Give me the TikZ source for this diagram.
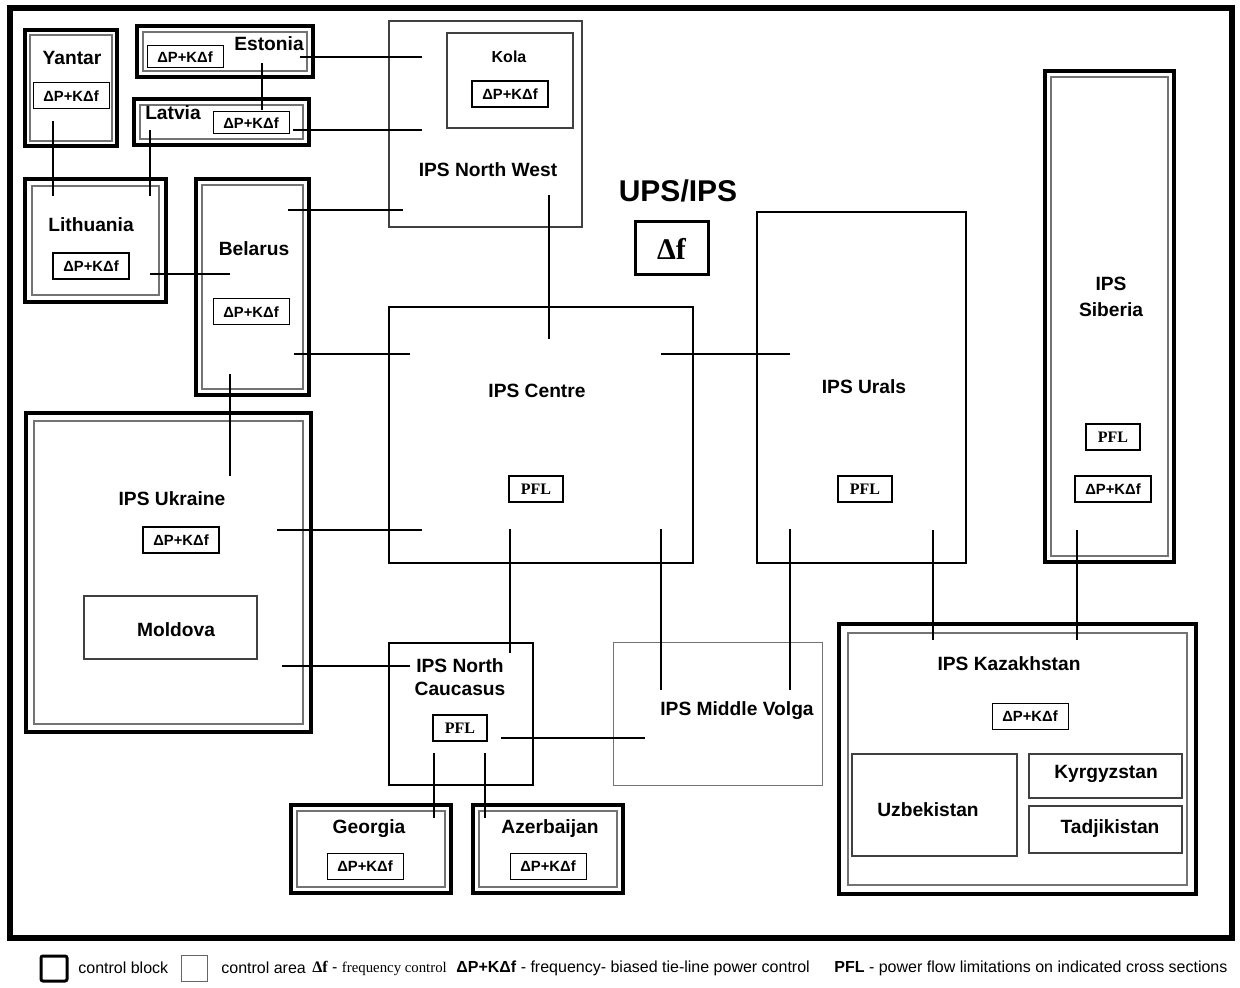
\documentclass[tikz,border=0pt]{standalone}
\usepackage{fontspec}
\setmainfont{Liberation Sans}
\newfontfamily\tms{Liberation Serif}
\usetikzlibrary{positioning,fit}

\tikzset{
  cblock/.style={draw, line width=2pt, inner sep=0pt,
    path picture={\draw[black!55, line width=0.6pt]
      ([shift={(#1,-#1)}]path picture bounding box.north west) rectangle
      ([shift={(-#1,#1)}]path picture bounding box.south east);}},
  cblock/.default=2.8pt,
  carea/.style={draw, line width=0.7pt, inner sep=0pt},
  lbl/.style={font=\bfseries\fontsize{9.6}{12}\selectfont, align=center, inner sep=0pt},
  ctl/.style={draw, line width=0.5pt, font=\bfseries\fontsize{7.4}{9}\selectfont,
    minimum width=38pt, minimum height=13pt, inner sep=0pt},
  ctlb/.style={ctl, line width=1pt},
  pfl/.style={draw, line width=1pt, font=\tms\bfseries\fontsize{8}{9}\selectfont,
    minimum width=27pt, minimum height=13pt, inner sep=0pt},
  tie/.style={line width=1pt},
  legtxt/.style={font=\fontsize{8}{10}\selectfont, anchor=west, inner sep=0pt}
}

\begin{document}
\begin{tikzpicture}[x=0.5pt,y=-0.5pt]
  \useasboundingbox (0,0) rectangle (1240,988);

  % UPS/IPS frame
  \node[draw, line width=3pt, inner sep=0pt, fit={(10,8) (1232,938)}] (ups) {};
  \node[font=\bfseries\fontsize{15}{18}\selectfont, inner sep=0pt] (upsL) at (678,191) {UPS/IPS};
  \node[draw, line width=1.5pt, inner sep=0pt, fit={(635,222) (708,275)}] (df) {};
  \node[font=\tms\bfseries\fontsize{15}{18}\selectfont, inner sep=0pt] (dfL) at (df.center) {Δf};

  % Baltic blocks
  \node[cblock=2.5pt, fit={(25,30) (117,146)}] (yantar) {};
  \node[lbl] (yantarL) at (72,58) {Yantar};
  \node[ctl] (yantarC) at (71,96) {ΔP+KΔf};

  \node[cblock=3pt, fit={(137,26) (313,77)}] (estonia) {};
  \node[lbl] (estoniaL) at (269,44) {Estonia};
  \node[ctl, minimum height=11pt] (estoniaC) at (185,57) {ΔP+KΔf};

  \node[cblock=3pt, fit={(134,99) (309,145)}] (latvia) {};
  \node[lbl] (latviaL) at (173,113) {Latvia};
  \node[ctl, minimum height=11pt] (latviaC) at (251,123) {ΔP+KΔf};

  \node[cblock=3.5pt, fit={(25,179) (166,302)}] (lith) {};
  \node[lbl] (lithL) at (91,225) {Lithuania};
  \node[ctlb] (lithC) at (91,266) {ΔP+KΔf};

  \node[cblock=3pt, fit={(196,179) (309,395)}] (belarus) {};
  \node[lbl] (belarusL) at (254,249) {Belarus};
  \node[ctl] (belarusC) at (251,312) {ΔP+KΔf};

  % North West
  \node[carea, draw=black!75, fit={(389,21) (582,227)}] (nw) {};
  \node[lbl] (nwL) at (488,170) {IPS North West};
  \node[carea, draw=black!75, fit={(447,33) (573,128)}] (kola) {};
  \node[lbl, font=\bfseries\fontsize{8}{10}\selectfont] (kolaL) at (509,57) {Kola};
  \node[ctlb] (kolaC) at (510,94) {ΔP+KΔf};

  % Centre, Urals, Siberia
  \node[carea, fit={(389,307) (693,563)}] (centre) {};
  \node[lbl] (centreL) at (537,391) {IPS Centre};
  \node[pfl] (centreP) at (536,489) {PFL};

  \node[carea, fit={(757,212) (966,563)}] (urals) {};
  \node[lbl] (uralsL) at (864,387) {IPS Urals};
  \node[pfl] (uralsP) at (865,489) {PFL};

  \node[cblock=3pt, fit={(1045,71) (1174,562)}] (siberia) {};
  \node[lbl, font=\bfseries\fontsize{9.6}{13}\selectfont] (siberiaL) at (1111,297) {IPS\\Siberia};
  \node[pfl] (siberiaP) at (1113,437) {PFL};
  \node[ctlb] (siberiaC) at (1113,489) {ΔP+KΔf};

  % Ukraine
  \node[cblock=4pt, fit={(26,413) (311,732)}] (ukraine) {};
  \node[lbl] (ukraineL) at (172,499) {IPS Ukraine};
  \node[ctlb] (ukraineC) at (181,540) {ΔP+KΔf};
  \node[carea, draw=black!75, fit={(84,596) (257,659)}] (moldova) {};
  \node[lbl] (moldovaL) at (176,630) {Moldova};

  % North Caucasus
  \node[carea, fit={(389,643) (533,785)}] (nc) {};
  \node[lbl, font=\bfseries\fontsize{9.6}{11.5}\selectfont] (ncL) at (460,677) {IPS North\\Caucasus};
  \node[pfl] (ncP) at (460,728) {PFL};

  \node[cblock=3pt, fit={(291,805) (451,893)}] (georgia) {};
  \node[lbl] (georgiaL) at (369,829) {Georgia};
  \node[ctl] (georgiaC) at (365,866) {ΔP+KΔf};

  \node[cblock=3pt, fit={(473,805) (623,893)}] (azer) {};
  \node[lbl] (azerL) at (550,829) {Azerbaijan};
  \node[ctl] (azerC) at (548,866) {ΔP+KΔf};

  % Middle Volga
  \node[carea, draw=black!55, line width=0.5pt, fit={(613,642) (822,785)}] (mv) {};
  \node[lbl] (mvL) at (737,711) {IPS Middle Volga};

  % Kazakhstan
  \node[cblock=4.5pt, fit={(839,624) (1196,894)}] (kaz) {};
  \node[lbl] (kazL) at (1009,664) {IPS Kazakhstan};
  \node[ctl] (kazC) at (1030,716) {ΔP+KΔf};
  \node[carea, draw=black!75, fit={(852,754) (1017,856)}] (uzb) {};
  \node[lbl] (uzbL) at (928,810) {Uzbekistan};
  \node[carea, draw=black!75, fit={(1029,754) (1182,798)}] (kyr) {};
  \node[lbl] (kyrL) at (1106,774) {Kyrgyzstan};
  \node[carea, draw=black!75, fit={(1029,806) (1182,853)}] (tad) {};
  \node[lbl] (tadL) at (1110,829) {Tadjikistan};

  % tie line ends
  \coordinate (estK) at (300,57);   \coordinate (kolaE) at (422,57);
  \coordinate (latN) at (293,130);  \coordinate (nwLat) at (422,130);
  \coordinate (estL) at (262,63);   \coordinate (latE) at (262,110);
  \coordinate (yanL) at (53,121);   \coordinate (lithY) at (53,196);
  \coordinate (latL) at (150,130);  \coordinate (lithLa) at (150,196);
  \coordinate (lithB) at (150,274); \coordinate (belLi) at (230,274);
  \coordinate (belN) at (288,210);  \coordinate (nwBel) at (403,210);
  \coordinate (belC) at (294,354);  \coordinate (cenBel) at (410,354);
  \coordinate (belU) at (230,374);  \coordinate (ukrBel) at (230,476);
  \coordinate (nwC) at (549,195);   \coordinate (cenNw) at (549,339);
  \coordinate (cenU) at (661,354);  \coordinate (urC) at (790,354);
  \coordinate (ukrC) at (277,530);  \coordinate (cenUkr) at (422,530);
  \coordinate (ukrN) at (282,666);  \coordinate (ncUkr) at (410,666);
  \coordinate (cenN) at (510,529);  \coordinate (ncCen) at (510,653);
  \coordinate (cenM) at (661,529);  \coordinate (mvCen) at (661,690);
  \coordinate (urM) at (790,529);   \coordinate (mvUr) at (790,690);
  \coordinate (urK) at (933,530);   \coordinate (kazUr) at (933,640);
  \coordinate (sibK) at (1077,530); \coordinate (kazSib) at (1077,640);
  \coordinate (ncM) at (501,738);   \coordinate (mvNc) at (645,738);
  \coordinate (ncG) at (434,753);   \coordinate (geoNc) at (434,818);
  \coordinate (ncA) at (485,753);   \coordinate (azNc) at (485,818);

  % tie lines
  \foreach \a/\b in {estK/kolaE, latN/nwLat, estL/latE, yanL/lithY, latL/lithLa,
      lithB/belLi, belN/nwBel, belC/cenBel, belU/ukrBel, nwC/cenNw, cenU/urC,
      ukrC/cenUkr, ukrN/ncUkr, cenN/ncCen, cenM/mvCen, urM/mvUr, urK/kazUr,
      sibK/kazSib, ncM/mvNc, ncG/geoNc, ncA/azNc}
    \draw[tie] (\a) -- (\b);

  % legend
  \node[draw, line width=1.5pt, rounded corners=1pt, inner sep=0pt, fit={(41,956) (67,981)}] (legB) {};
  \node[legtxt] (legBT) at (78,968) {control block};
  \node[draw=black!60, line width=0.5pt, inner sep=0pt, fit={(181,955) (207,981)}] (legA) {};
  \node[legtxt] (legAT) at (221,968) {control area};
  \node[legtxt] (legF) at (312,968) {{\tms\bfseries Δf} - {\tms\fontsize{7.4}{9}\selectfont frequency control}};
  \node[legtxt] (legP) at (456,968) {\textbf{ΔP+KΔf} - frequency- biased tie-line power control};
  \node[legtxt] (legL) at (834,968) {\textbf{PFL} - power flow limitations on indicated cross sections};
\end{tikzpicture}
\end{document}
